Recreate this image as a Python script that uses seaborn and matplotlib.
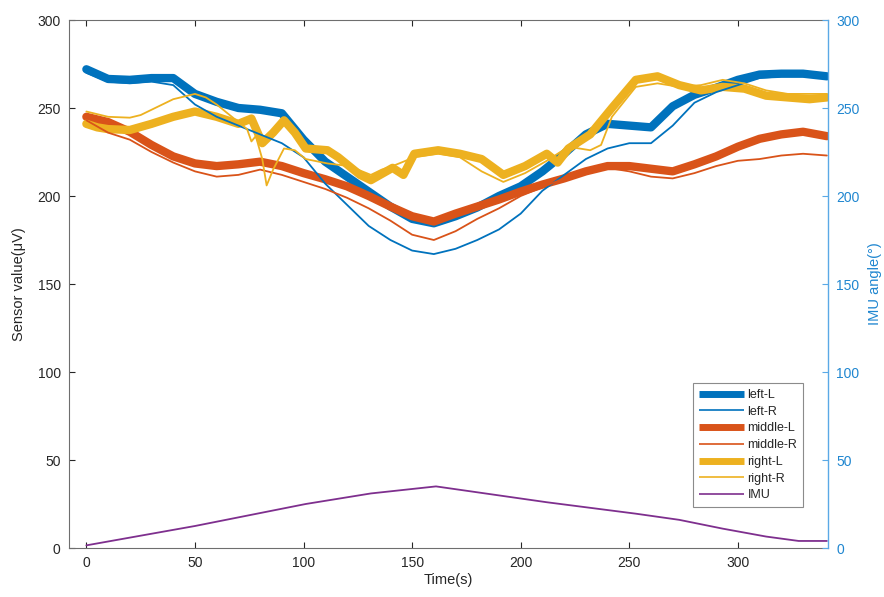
import numpy as np
import pandas as pd
import matplotlib
matplotlib.use("Agg")
import matplotlib.pyplot as plt
from matplotlib.lines import Line2D
import seaborn as sns

# ---------------- data ----------------
t_grid = [0, 10, 20, 30, 40, 50, 60, 70, 80, 90, 100, 110, 120, 130, 140, 150,
          160, 170, 180, 190, 200, 210, 220, 230, 240, 250, 260, 270, 280, 290,
          300, 310, 320, 330, 341]

left_L = [272, 266.5, 266, 267, 267, 258, 253.5, 250, 249, 247, 232, 219.5, 211,
          202.5, 194, 187, 184.5, 188.5, 193.5, 200, 205.5, 214, 224, 235, 241,
          240, 239, 251, 257.5, 261.5, 266, 269, 269.5, 269.5, 268]
left_R = [270, 265, 264, 265, 263, 252, 245, 240, 235, 230, 222, 207, 195, 183,
          175, 169, 167, 170, 175, 181, 190, 203, 212, 221, 227, 230, 230, 240,
          253, 259, 263, 267, 268, 268, 267]
middle_L = [245, 242, 236.5, 229, 222.5, 218.5, 217, 218, 219.5, 217, 213, 209.5,
            205.5, 200, 194, 188.5, 185.5, 190, 194, 198, 202.5, 206.5, 210, 214,
            217, 217, 215.5, 214, 218, 222.5, 228, 232.5, 235, 236.5, 234]
middle_R = [243, 236, 232, 225, 219, 214, 211, 212, 215, 212, 208, 204, 199, 193,
            186, 178, 175, 180, 187, 193, 200, 205, 210, 214, 216, 214, 211, 210,
            213, 217, 220, 221, 223, 224, 223]

t_right_L = [0, 5, 10, 20, 30, 40, 50, 60, 70, 76, 81, 86, 91, 96, 101, 111, 116,
             121, 126, 131, 141, 146, 151, 162, 172, 182, 192, 202, 212, 217, 222,
             232, 242, 253, 263, 273, 283, 293, 303, 313, 323, 333, 341]
right_L = [241, 239, 238, 237.5, 241, 245, 248, 245, 241, 244, 230, 236, 243, 236,
           227, 226, 222, 217, 212, 209, 216, 212, 224, 226, 224, 221, 212, 217,
           224, 219, 227, 235, 250, 266, 268, 263, 260, 262, 261, 257, 256, 255, 256]

t_right_R = [0, 10, 20, 25, 30, 40, 50, 55, 60, 70, 74, 76, 78, 81, 83, 86, 91, 96,
             101, 111, 121, 131, 136, 141, 151, 162, 172, 182, 192, 202, 212, 222,
             232, 237, 242, 253, 263, 273, 283, 293, 303, 313, 323, 333, 341]
right_R = [248, 245, 244.5, 246, 249, 255, 258, 256, 252, 242, 238, 231, 234, 221,
           206, 215, 227, 226, 221, 218.5, 217, 212, 215, 217, 222, 224, 222, 214,
           208, 213, 220, 228, 226, 229, 245, 262, 264, 262, 263, 266, 264, 260, 258,
           258, 258]

t_imu = [0, 50, 101, 131, 161, 212, 253, 273, 293, 313, 328, 341]
imu = [1.5, 12.5, 25, 31, 35, 26, 19.5, 16, 11, 6.5, 4, 4]

series = ["left-L", "left-R", "middle-L", "middle-R", "right-L", "right-R"]
colors = ["#0072BD", "#0072BD", "#D95319", "#D95319", "#EDB120", "#EDB120"]
widths = [6.0, 1.3, 6.0, 1.3, 6.0, 1.3]

# ---------------- style ----------------
sns.set_theme(style="white")
plt.rcParams["font.family"] = ["Liberation Sans", "DejaVu Sans"]
plt.rcParams["axes.linewidth"] = 0.8

fig = plt.figure(figsize=(8.84, 5.97), dpi=100)
ax = fig.add_axes([69 / 884, 1 - 548 / 597, (828 - 69) / 884, (548 - 20) / 597])
ax2 = ax.twinx()

frames = {
    "left-L": (t_grid, left_L), "left-R": (t_grid, left_R),
    "middle-L": (t_grid, middle_L), "middle-R": (t_grid, middle_R),
    "right-L": (t_right_L, right_L), "right-R": (t_right_R, right_R),
}
order = ["left-L", "middle-L", "right-L", "left-R", "middle-R", "right-R"]
for name in order:
    i = series.index(name)
    tx, vy = frames[name]
    df = pd.DataFrame({"t": tx, "v": vy})
    sns.lineplot(data=df, x="t", y="v", ax=ax, color=colors[i], lw=widths[i],
                 solid_capstyle="round", solid_joinstyle="round", legend=False)

df_imu = pd.DataFrame({"t": t_imu, "v": imu})
sns.lineplot(data=df_imu, x="t", y="v", ax=ax2, color="#7E2F8E", lw=1.3, legend=False)

dark = "#262626"
blue = "#1F86D0"
ax.set_xlim(-8, 341.5)
ax.set_ylim(0, 300)
ax2.set_ylim(0, 300)
ax.set_xticks([0, 50, 100, 150, 200, 250, 300])
ax.set_yticks([0, 50, 100, 150, 200, 250, 300])
ax2.set_yticks([0, 50, 100, 150, 200, 250, 300])

ax.tick_params(axis="x", direction="in", length=4, width=0.8, colors=dark,
               labelsize=10, top=True, bottom=True, pad=6)
ax.tick_params(axis="y", direction="in", length=4, width=0.8, colors=dark,
               labelsize=10, left=True, right=False, pad=6)
ax2.tick_params(axis="y", direction="in", length=4, width=0.8, colors="#5AA9E6",
                labelcolor=blue, labelsize=10, right=True, pad=6)

for s in ["left", "bottom", "top"]:
    ax.spines[s].set_color("#6e6e6e")
ax.spines["right"].set_visible(False)
for s in ["left", "bottom", "top"]:
    ax2.spines[s].set_visible(False)
ax2.spines["right"].set_color("#5AA9E6")
ax2.spines["right"].set_linewidth(1.0)

ax.set_xlabel("Time(s)", fontsize=10.5, color=dark, labelpad=2)
ax.set_ylabel("Sensor value(μV)", fontsize=10.5, color=dark, labelpad=8)
ax2.set_ylabel("IMU angle(°)", fontsize=10.5, color=blue, labelpad=6)

leg_handles = [Line2D([], [], color=c, lw=(5.0 if w > 2 else 1.2), solid_capstyle="butt")
               for c, w in zip(colors, widths)]
leg_handles.append(Line2D([], [], color="#7E2F8E", lw=1.2, solid_capstyle="butt"))
leg = ax2.legend(leg_handles, series + ["IMU"], loc="lower right",
                 bbox_to_anchor=(803 / 884, 1 - 507 / 597), bbox_transform=fig.transFigure,
                 fontsize=9, frameon=True, fancybox=False, handlelength=3.6,
                 handletextpad=0.3, labelspacing=0.38, borderpad=0.45,
                 borderaxespad=0)
leg.get_frame().set_edgecolor("#6e6e6e")
leg.get_frame().set_linewidth(0.8)
for txt in leg.get_texts():
    txt.set_color(dark)

fig.savefig("out.png", dpi=100)
